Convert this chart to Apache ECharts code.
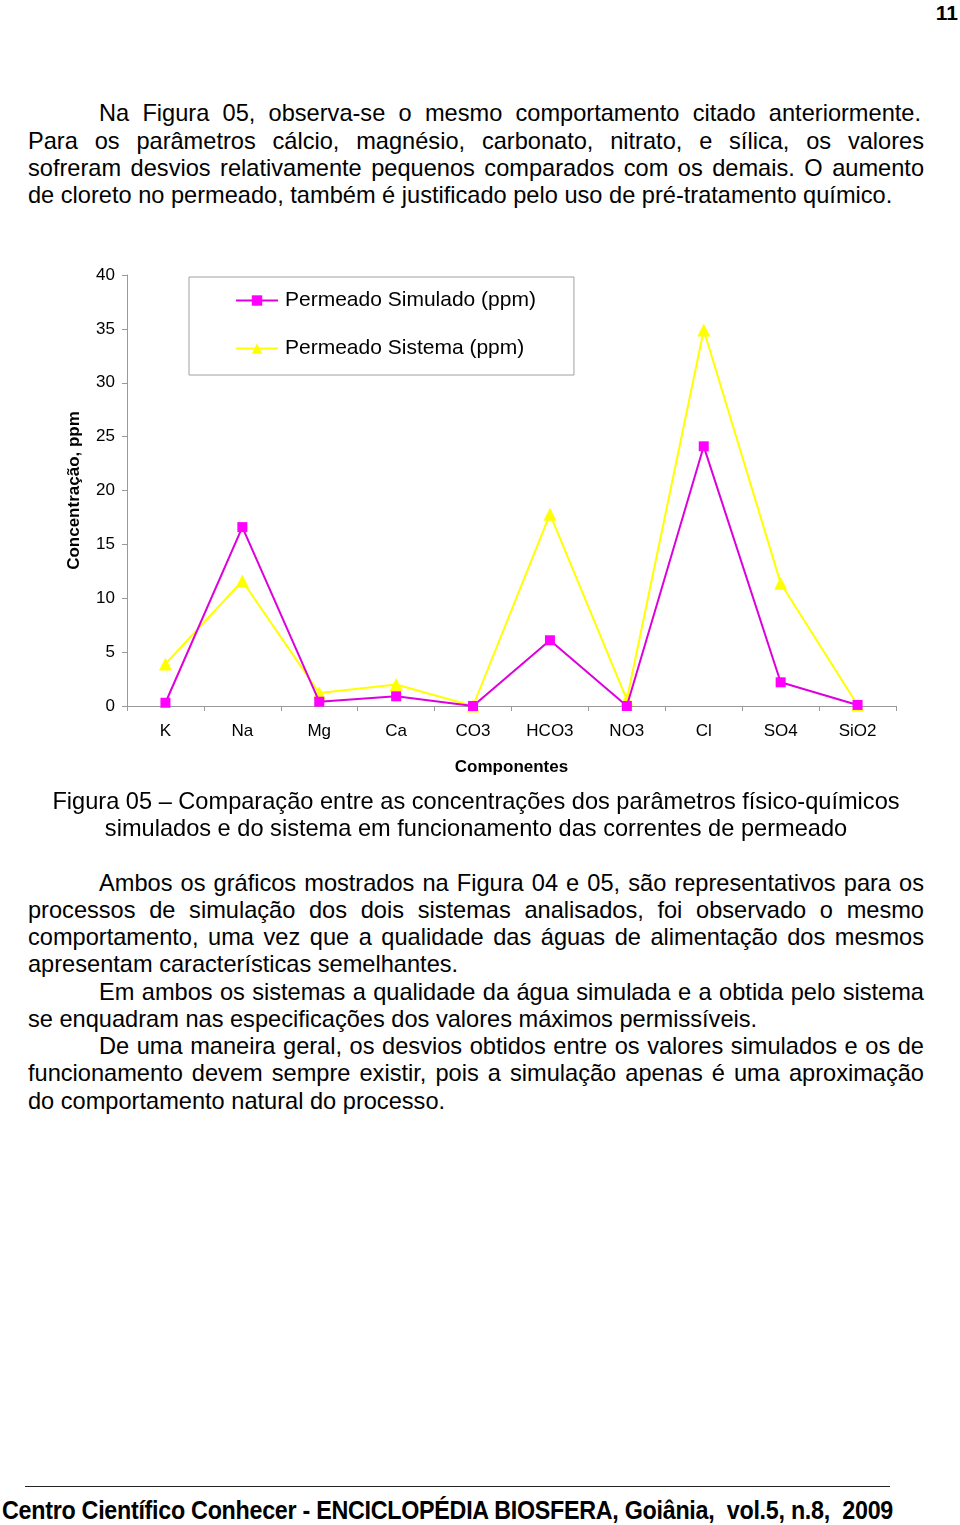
<!DOCTYPE html>
<html>
<head>
<meta charset="utf-8">
<script src="https://cdn.jsdelivr.net/npm/echarts@6/dist/echarts.min.js"></script>
<style>
  html, body { margin:0; padding:0; background:#fff; }
  body { width:960px; height:1525px; position:relative; overflow:hidden; font-family:'Liberation Sans', Arial, sans-serif; color:#000; }
  .ln { position:absolute; font-size:23.6px; line-height:28px; white-space:nowrap; }
  .j { text-align:justify; text-align-last:justify; white-space:normal; }
  .c { text-align:center; left:0; width:952px; }
  #chart { position:absolute; left:0; top:240px; width:960px; height:560px; }
  #pg { position:absolute; right:2px; top:1px; font-weight:bold; font-size:21px; }
  #rule { position:absolute; left:25px; top:1486px; width:865px; height:0; border-top:1.3px solid #222; }
  #foot { position:absolute; left:2px; top:1496px; font-weight:bold; font-size:25px; white-space:nowrap; transform-origin:0 0; letter-spacing:-0.3px; }
</style>
</head>
<body>
<div id="pg">11</div>

<div class="ln j" style="left:99px;width:822px;top:99px">Na Figura 05, observa-se o mesmo comportamento citado anteriormente.</div>
<div class="ln j" style="left:28px;width:896px;top:127px">Para os parâmetros cálcio, magnésio, carbonato, nitrato, e sílica, os valores</div>
<div class="ln j" style="left:28px;width:896px;top:154px">sofreram desvios relativamente pequenos comparados com os demais. O aumento</div>
<div class="ln" style="left:28px;top:181px">de cloreto no permeado, também é justificado pelo uso de pré-tratamento químico.</div>

<div id="chart"></div>

<div class="ln c" style="top:787px">Figura 05 – Comparação entre as concentrações dos parâmetros físico-químicos</div>
<div class="ln c" style="top:814px">simulados e do sistema em funcionamento das correntes de permeado</div>

<div class="ln j" style="left:99px;width:825px;top:869px">Ambos os gráficos mostrados na Figura 04 e 05, são representativos para os</div>
<div class="ln j" style="left:28px;width:896px;top:896px">processos de simulação dos dois sistemas analisados, foi observado o mesmo</div>
<div class="ln j" style="left:28px;width:896px;top:923px">comportamento, uma vez que a qualidade das águas de alimentação dos mesmos</div>
<div class="ln" style="left:28px;top:950px">apresentam características semelhantes.</div>
<div class="ln j" style="left:99px;width:825px;top:978px">Em ambos os sistemas a qualidade da água simulada e a obtida pelo sistema</div>
<div class="ln" style="left:28px;top:1005px">se enquadram nas especificações dos valores máximos permissíveis.</div>
<div class="ln j" style="left:99px;width:825px;top:1032px">De uma maneira geral, os desvios obtidos entre os valores simulados e os de</div>
<div class="ln j" style="left:28px;width:896px;top:1059px">funcionamento devem sempre existir, pois a simulação apenas é uma aproximação</div>
<div class="ln" style="left:28px;top:1087px">do comportamento natural do processo.</div>

<div id="rule"></div>
<div id="foot">Centro Científico Conhecer - ENCICLOPÉDIA BIOSFERA, Goiânia,&nbsp; vol.5, n.8,&nbsp; 2009</div>

<script>
// ---- data ----
const categories = ['K', 'Na', 'Mg', 'Ca', 'CO3', 'HCO3', 'NO3', 'Cl', 'SO4', 'SiO2'];
const simulado = [0.3, 16.6, 0.4, 0.9, 0.0, 6.1, 0.0, 24.1, 2.2, 0.1];
const sistema  = [3.9, 11.6, 1.2, 2.0, 0.0, 17.8, 0.6, 34.9, 11.4, 0.1];
const seriesNames = ['Permeado Simulado (ppm)', 'Permeado Sistema (ppm)'];
const yTicks = { min: 0, max: 40, interval: 5 };

// footer fit
(function(){
  const f = document.getElementById('foot');
  const w = f.getBoundingClientRect().width;
  f.style.transform = 'scaleX(' + (891 / w) + ')';
})();

const FONT = "'Liberation Sans', Arial, sans-serif";
const chart = echarts.init(document.getElementById('chart'), null, { renderer: 'canvas' });
chart.setOption({
  animation: false,
  backgroundColor: '#fff',
  textStyle: { fontFamily: FONT },
  grid: { left: 127, right: 64, top: 35, bottom: 94, containLabel: false },
  legend: {
    orient: 'vertical',
    left: 189, top: 37,
    padding: [13, 38, 16, 46],
    itemGap: 27,
    itemWidth: 42, itemHeight: 13,
    borderColor: '#a0a0a0', borderWidth: 1,
    backgroundColor: '#fff',
    textStyle: { fontSize: 21, color: '#000', fontFamily: FONT, padding: [0, 0, 0, 2] },
    data: seriesNames
  },
  xAxis: {
    type: 'category',
    data: categories,
    boundaryGap: true,
    name: 'Componentes',
    nameLocation: 'middle',
    nameGap: 53,
    nameTextStyle: { fontSize: 17, fontWeight: 'bold', color: '#000', fontFamily: FONT },
    axisLine: { lineStyle: { color: '#9a9a9a', width: 1 } },
    axisTick: { show: true, length: 5, inside: false, lineStyle: { color: '#9a9a9a' } },
    axisLabel: { fontSize: 17, color: '#000', margin: 17, fontFamily: FONT },
    splitLine: { show: false }
  },
  yAxis: {
    type: 'value',
    min: yTicks.min, max: yTicks.max, interval: yTicks.interval,
    name: 'Concentração, ppm',
    nameLocation: 'middle',
    nameGap: 44,
    nameRotate: 90,
    nameTextStyle: { fontSize: 17, fontWeight: 'bold', color: '#000', fontFamily: FONT },
    axisLine: { show: true, lineStyle: { color: '#9a9a9a', width: 1 } },
    axisTick: { show: true, length: 5, lineStyle: { color: '#9a9a9a' } },
    axisLabel: { fontSize: 17, color: '#000', margin: 12, fontFamily: FONT },
    splitLine: { show: false }
  },
  series: [
    {
      name: seriesNames[0],
      type: 'line',
      data: simulado,
      symbol: 'rect',
      symbolSize: 10,
      itemStyle: { color: '#ff00ff' },
      lineStyle: { color: '#dd00dd', width: 2 },
      z: 3
    },
    {
      name: seriesNames[1],
      type: 'line',
      data: sistema,
      symbol: 'triangle',
      symbolSize: 13,
      itemStyle: { color: '#ffff00' },
      lineStyle: { color: '#ffff00', width: 2 },
      z: 2
    }
  ]
});
</script>
</body>
</html>
